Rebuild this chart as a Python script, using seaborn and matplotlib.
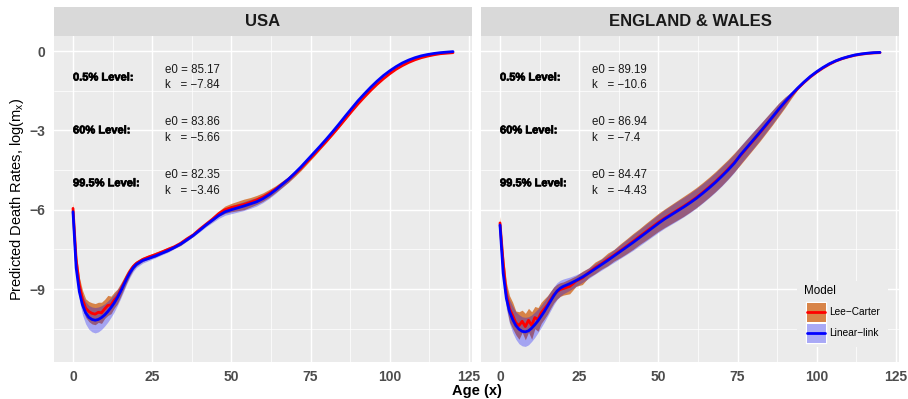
import numpy as np
import pandas as pd
import matplotlib
matplotlib.use("Agg")
import matplotlib.pyplot as plt
import matplotlib.patheffects as pe
import seaborn as sns
from matplotlib.patches import Rectangle
from matplotlib.lines import Line2D

# ---------------- data ----------------
ages = list(range(0, 21)) + list(range(22, 121, 2))

usa_ll = [-6.08, -8.2, -9.1, -9.6, -9.9, -10.07, -10.15, -10.18, -10.15, -10.08, -9.98,
          -9.85, -9.7, -9.53, -9.33, -9.1, -8.85, -8.6, -8.38, -8.2, -8.07,
          -7.92, -7.84, -7.75, -7.65, -7.55, -7.43, -7.3, -7.14, -6.97, -6.78,
          -6.58, -6.4, -6.22, -6.08, -6.0, -5.93, -5.86, -5.78, -5.7, -5.58,
          -5.43, -5.25, -5.05, -4.85, -4.62, -4.38, -4.12, -3.86, -3.6, -3.33,
          -3.05, -2.76, -2.46, -2.17, -1.88, -1.62, -1.37, -1.14, -0.93, -0.75,
          -0.59, -0.45, -0.34, -0.25, -0.18, -0.13, -0.09, -0.06, -0.04, -0.02]
usa_lc = [-5.95, -7.9, -8.85, -9.4, -9.72, -9.85, -9.92, -9.95, -9.88, -9.9, -9.75,
          -9.62, -9.6, -9.42, -9.28, -9.05, -8.8, -8.55, -8.33, -8.15, -8.03,
          -7.88, -7.78, -7.7, -7.6, -7.5, -7.4, -7.27, -7.1, -6.95, -6.74,
          -6.55, -6.36, -6.15, -6.0, -5.92, -5.86, -5.8, -5.72, -5.63, -5.52,
          -5.38, -5.22, -5.04, -4.86, -4.65, -4.43, -4.18, -3.93, -3.67, -3.41,
          -3.14, -2.86, -2.57, -2.28, -2.0, -1.74, -1.49, -1.26, -1.05, -0.86,
          -0.69, -0.55, -0.43, -0.33, -0.25, -0.19, -0.14, -0.1, -0.08, -0.06]
usa_lc_hw = [0.3, 0.3, 0.3, 0.35, 0.35, 0.38, 0.4, 0.4, 0.38, 0.4, 0.36,
             0.38, 0.33, 0.3, 0.28, 0.25, 0.22, 0.2, 0.16, 0.12, 0.1,
             0.08, 0.07, 0.09, 0.07, 0.08, 0.06, 0.08, 0.07, 0.06, 0.05,
             0.06, 0.08, 0.1, 0.14, 0.16, 0.18, 0.2, 0.18, 0.17, 0.16,
             0.15, 0.13, 0.12, 0.11, 0.1, 0.09, 0.08, 0.07, 0.06, 0.05,
             0.04, 0.03, 0.02, 0.01, 0, 0, 0, 0, 0, 0,
             0, 0, 0, 0, 0, 0, 0, 0, 0, 0]
usa_ll_hw = [0.1, 0.2, 0.3, 0.38, 0.42, 0.45, 0.47, 0.48, 0.47, 0.45, 0.42,
             0.4, 0.37, 0.34, 0.3, 0.27, 0.24, 0.2, 0.17, 0.14, 0.12,
             0.1, 0.08, 0.07, 0.06, 0.06, 0.05, 0.05, 0.05, 0.05, 0.06,
             0.07, 0.09, 0.11, 0.13, 0.15, 0.16, 0.17, 0.17, 0.16, 0.15,
             0.14, 0.13, 0.12, 0.11, 0.1, 0.09, 0.08, 0.07, 0.06, 0.05,
             0.04, 0.03, 0.02, 0.01, 0, 0, 0, 0, 0, 0,
             0, 0, 0, 0, 0, 0, 0, 0, 0, 0]

ew_ll = [-6.58, -8.4, -9.35, -9.85, -10.15, -10.38, -10.52, -10.6, -10.62, -10.58, -10.48,
         -10.35, -10.2, -10.03, -9.85, -9.65, -9.45, -9.25, -9.08, -8.97, -8.9,
         -8.8, -8.68, -8.55, -8.4, -8.24, -8.08, -7.92, -7.75, -7.58, -7.41,
         -7.24, -7.06, -6.88, -6.7, -6.52, -6.35, -6.2, -6.05, -5.9, -5.74,
         -5.57, -5.38, -5.18, -4.97, -4.74, -4.5, -4.24, -3.92, -3.64, -3.36,
         -3.08, -2.79, -2.5, -2.2, -1.92, -1.65, -1.4, -1.17, -0.96, -0.78,
         -0.62, -0.48, -0.37, -0.28, -0.21, -0.15, -0.11, -0.08, -0.06, -0.05]
ew_lc = [-6.5, -8.0, -9.2, -9.75, -10.0, -10.28, -10.38, -10.22, -10.42, -10.18, -10.38,
         -10.08, -10.15, -9.9, -9.75, -9.6, -9.4, -9.22, -9.1, -9.02, -8.98,
         -8.9, -8.7, -8.58, -8.38, -8.2, -8.05, -7.88, -7.72, -7.55, -7.38,
         -7.2, -7.02, -6.84, -6.66, -6.48, -6.32, -6.17, -6.02, -5.87, -5.71,
         -5.54, -5.35, -5.15, -4.94, -4.71, -4.47, -4.21, -3.94, -3.66, -3.38,
         -3.1, -2.81, -2.52, -2.22, -1.94, -1.67, -1.42, -1.19, -0.98, -0.8,
         -0.64, -0.5, -0.38, -0.29, -0.22, -0.16, -0.12, -0.09, -0.07, -0.06]
ew_lc_hw = [0.25, 0.35, 0.45, 0.5, 0.5, 0.45, 0.52, 0.42, 0.5, 0.45, 0.52,
            0.42, 0.45, 0.4, 0.38, 0.35, 0.32, 0.3, 0.28, 0.26, 0.25,
            0.28, 0.2, 0.25, 0.18, 0.22, 0.2, 0.24, 0.22, 0.26, 0.28,
            0.3, 0.3, 0.32, 0.33, 0.34, 0.35, 0.36, 0.37, 0.38, 0.38,
            0.38, 0.38, 0.38, 0.38, 0.38, 0.37, 0.36, 0.35, 0.34, 0.33,
            0.32, 0.3, 0.28, 0.25, 0.2, 0.12, 0.04, 0, 0, 0,
            0, 0, 0, 0, 0, 0, 0, 0, 0, 0]
ew_ll_hw = [0.1, 0.3, 0.4, 0.45, 0.5, 0.52, 0.55, 0.55, 0.55, 0.53, 0.5,
            0.48, 0.45, 0.42, 0.4, 0.38, 0.36, 0.34, 0.32, 0.3, 0.28,
            0.25, 0.22, 0.2, 0.2, 0.2, 0.21, 0.22, 0.24, 0.26, 0.28,
            0.3, 0.31, 0.32, 0.33, 0.34, 0.35, 0.36, 0.37, 0.37, 0.37,
            0.37, 0.37, 0.37, 0.37, 0.37, 0.36, 0.35, 0.34, 0.33, 0.32,
            0.3, 0.28, 0.26, 0.23, 0.18, 0.1, 0.03, 0, 0, 0,
            0, 0, 0, 0, 0, 0, 0, 0, 0, 0]

countries = ["USA", "ENGLAND & WALES"]
level_labels = ["0.5% Level:", "60% Level:", "99.5% Level:"]
level_rows = [-1, -3, -5]
usa_e0 = ["85.17", "83.86", "82.35"]
usa_k = ["\u22127.84", "\u22125.66", "\u22123.46"]
ew_e0 = ["89.19", "86.94", "84.47"]
ew_k = ["\u221210.6", "\u22127.4", "\u22124.43"]
models = ["Lee\u2212Carter", "Linear\u2212link"]
x_ticks = [0, 25, 50, 75, 100, 125]
y_ticks = [0, -3, -6, -9]

# ---------------- style ----------------
sns.set_theme(style="darkgrid")
plt.rcParams['font.family'] = ['Liberation Sans', 'DejaVu Sans']
plt.rcParams['mathtext.fontset'] = 'custom'
plt.rcParams['mathtext.rm'] = 'Liberation Sans'
plt.rcParams['axes.unicode_minus'] = True

LC_FILL = '#D2691E'
LL_FILL = 'blue'
PAL = {models[0]: 'red', models[1]: 'blue'}
FILLS = {models[0]: (LC_FILL, 0.8), models[1]: (LL_FILL, 0.3)}

fig = plt.figure(figsize=(9.08, 3.99), dpi=100)
W, H = 908, 399
p_left = [54, 481]
p_w = 418
p_top, p_bot = 36, 362
strip_top = 7


def fx(px):
    return px / W


def fy(py):
    return 1 - py / H


series = {
    "USA": (usa_lc, usa_lc_hw, usa_ll, usa_ll_hw, usa_e0, usa_k),
    "ENGLAND & WALES": (ew_lc, ew_lc_hw, ew_ll, ew_ll_hw, ew_e0, ew_k),
}

axes = []
for i, c in enumerate(countries):
    lc, lchw, ll, llhw, e0s, ks = series[c]
    ax = fig.add_axes([fx(p_left[i]), fy(p_bot), p_w / W, (p_bot - p_top) / H])
    axes.append(ax)
    ax.set_facecolor('#EBEBEB')
    a = np.array(ages, float)
    lc_a, ll_a = np.array(lc), np.array(ll)
    ax.fill_between(a, lc_a - np.array(lchw), lc_a + np.array(lchw),
                    color=LC_FILL, alpha=0.8, lw=0, zorder=2)
    ax.fill_between(a, ll_a - np.array(llhw), ll_a + np.array(llhw),
                    color=LL_FILL, alpha=0.3, lw=0, zorder=2)
    df = pd.DataFrame({
        'age': ages * 2,
        'value': list(lc) + list(ll),
        'model': [models[0]] * len(ages) + [models[1]] * len(ages),
    })
    sns.lineplot(data=df, x='age', y='value', hue='model', hue_order=models,
                 palette=PAL, linewidth=2.0, legend=False, ax=ax, zorder=3,
                 estimator=None, sort=False)
    ax.set_xlim(-6, 126)
    ax.set_ylim(-11.76, 0.57)
    ax.set_xticks(x_ticks)
    ax.set_xticks([12.5, 37.5, 62.5, 87.5, 112.5], minor=True)
    ax.set_yticks(y_ticks)
    ax.set_yticks([-1.5, -4.5, -7.5, -10.5], minor=True)
    ax.grid(which='major', color='white', lw=1.07)
    ax.grid(which='minor', color='white', lw=0.53)
    ax.set_axisbelow(True)
    for s in ax.spines.values():
        s.set_visible(False)
    ax.set_xlabel('')
    ax.set_ylabel('')
    ax.tick_params(axis='both', which='major', direction='out', length=3.5,
                   width=1.0, color='#333333', labelsize=10, labelcolor='#4D4D4D', pad=2.5)
    ax.tick_params(axis='both', which='minor', length=0)
    for lab in ax.get_xticklabels() + ax.get_yticklabels():
        lab.set_fontweight('bold')
    if i == 1:
        ax.tick_params(axis='y', which='major', length=0, labelleft=False)

    # annotations
    for row, lvl, e0, k in zip(level_rows, level_labels, e0s, ks):
        ax.text(0, row, lvl, ha='left', va='center', fontsize=8,
                fontweight='bold', color='black', zorder=4,
                path_effects=[pe.withStroke(linewidth=0.5, foreground='black')])
        ax.text(29, row + 0.3, f"e0 = {e0}", ha='left', va='center',
                fontsize=8.3, color='#1A1A1A', zorder=4)
        ax.text(29, row - 0.3, f"k   = {k}", ha='left', va='center',
                fontsize=8.3, color='#1A1A1A', zorder=4)

    # strip
    sax = fig.add_axes([fx(p_left[i]), fy(p_top), p_w / W, (p_top - strip_top) / H])
    sax.set_facecolor('#D9D9D9')
    sax.set_xticks([]); sax.set_yticks([])
    sax.grid(False)
    for s in sax.spines.values():
        s.set_visible(False)
    sax.text(0.5, 0.5, c, ha='center', va='center', fontsize=12,
             fontweight='bold', color='#1A1A1A', transform=sax.transAxes)

# axis titles
fig.text(fx(17), fy(199), "Predicted Death Rates, log(m$_\\mathrm{x}$)",
         rotation=90, ha='center', va='center', fontsize=10.5, color='black')
fig.text(fx(476.5), fy(391), "Age (x)", ha='center', va='center',
         fontsize=10.5, fontweight='bold', color='black')

# legend (drawn as a ggplot-style key box inside the right panel)
tf = fig.transFigure
fig.add_artist(Rectangle((fx(797), fy(347)), 91 / W, 66 / H, transform=tf,
                         facecolor='#EBEBEB', edgecolor='none', zorder=5))
fig.text(fx(804), fy(291), "Model", ha='left', va='center', fontsize=8.4,
         color='black', zorder=6)
key_tops = [302, 323]
for m, kt in zip(models, key_tops):
    fc, al = FILLS[m]
    fig.add_artist(Rectangle((fx(806), fy(kt + 20)), 20 / W, 20 / H, transform=tf,
                             facecolor='#F2F2F2', edgecolor='white', lw=1.0, zorder=6))
    fig.add_artist(Rectangle((fx(806.5), fy(kt + 19.5)), 19 / W, 19 / H, transform=tf,
                             facecolor=fc, alpha=al, edgecolor='none', zorder=7))
    fig.add_artist(Line2D([fx(807), fx(825)], [fy(kt + 10), fy(kt + 10)], transform=tf,
                          color=PAL[m], lw=2.0, zorder=8))
    fig.text(fx(829), fy(kt + 10), m, ha='left', va='center', fontsize=7.3,
             color='black', zorder=8)

fig.savefig("out.png", dpi=100, facecolor='white')
